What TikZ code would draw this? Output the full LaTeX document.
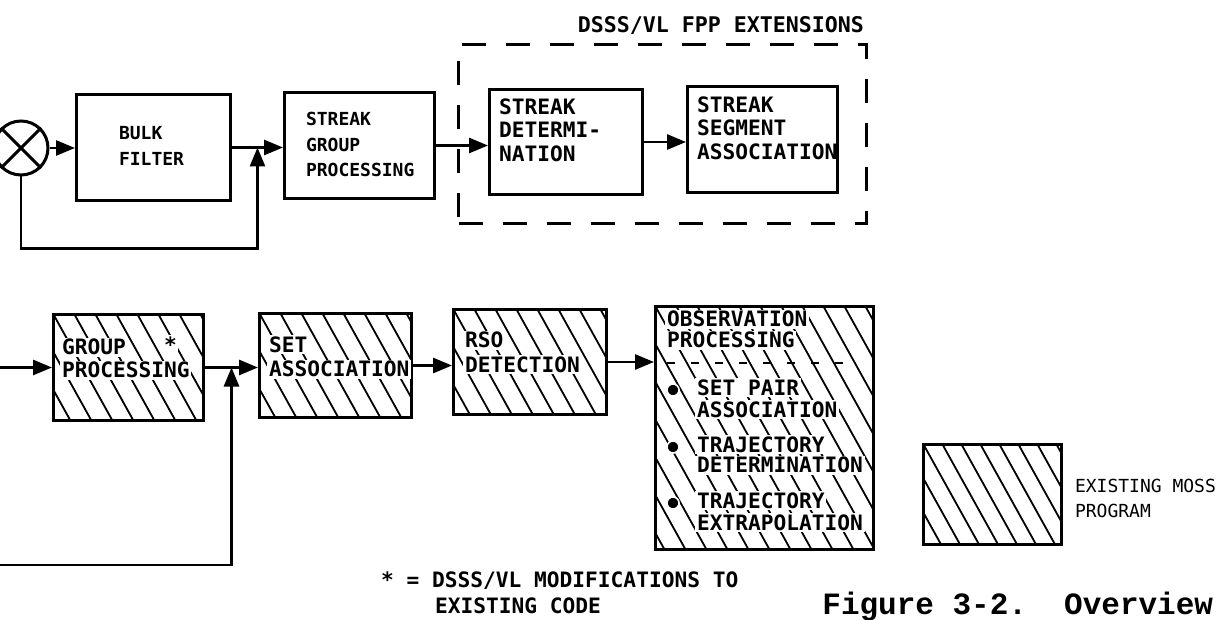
\documentclass[tikz,border=0pt]{standalone}
\usepackage{fontspec}
\newfontfamily\boxfont{DejaVu Sans Mono}
\newfontfamily\capfont{Liberation Mono}
\usetikzlibrary{arrows.meta,calc}

\tikzset{
  blk/.style={draw, line width=1.5pt, anchor=north west, inner sep=0pt},
  wh/.style 2 args={minimum width=#1*0.5pt, minimum height=#2*0.5pt},
  hatched/.style={path picture={
      \foreach \k in {-20,...,20}
        \draw[line width=0.9pt] ([xshift=\k*#1]path picture bounding box.north west) -- ++(100pt,-180pt);
    }},
  conn/.style={line width=1.4pt, -{Triangle[length=9.5pt,width=7.5pt]}},
  lbl/.style={anchor=base west, inner sep=0.8pt,
    font=\boxfont\bfseries\fontsize{10.6pt}{12pt}\selectfont},
  lblsm/.style={lbl, font=\boxfont\bfseries\fontsize{9pt}{11pt}\selectfont},
  hlbl/.style={lbl, fill=white},
}

\begin{document}
\begin{tikzpicture}[x=0.5pt,y=-0.5pt]
  \useasboundingbox (0,0) rectangle (1216,620);
  % upper chain
  \node[circle, draw, line width=1.5pt, minimum size=27pt, inner sep=0pt] (mix) at (21,148) {};
  \draw[line width=1.5pt] (mix.north west) -- (mix.south east) (mix.north east) -- (mix.south west);
  \node[blk, wh={154}{106}] (bulk) at (75,93) {};
  \node[blk, wh={150}{106}] (sgp) at (283,91) {};
  \node[blk, wh={153}{105}] (sdet) at (488,88) {};
  \node[blk, wh={150}{106}] (ssa) at (686,85) {};
  \node[blk, wh={408}{179}, dash pattern=on 12pt off 10pt] (ext) at (457,43) {};
  \node[lbl, anchor=base east, font=\boxfont\bfseries\fontsize{10.8pt}{12pt}\selectfont]
    (ext-title) at ($(ext.north east)+(-2,-10)$) {DSSS/VL FPP EXTENSIONS};
  \node[lblsm] (bulk-1) at (117,140) {BULK};
  \node[lblsm] (bulk-2) at (117,166) {FILTER};
  \foreach \t [count=\i] in {STREAK,GROUP,PROCESSING}
    \node[lblsm] (sgp-\i) at (304,{100.5+\i*25.5}) {\t};
  \foreach \t/\y [count=\i] in {STREAK/115,DETERMI-/138,NATION/162}
    \node[lbl] (sdet-\i) at (497,\y) {\t};
  \foreach \t/\y [count=\i] in {STREAK/113,SEGMENT/136,ASSOCIATION/160}
    \node[lbl] (ssa-\i) at (695,\y) {\t};
  % upper connectors
  \coordinate (j1) at ($(bulk.east)!.5!(bulk.east -| sgp.west)$);
  \draw[conn] (mix.east) -- (mix.east -| bulk.west);
  \draw[conn] (bulk.east) -- (bulk.east -| sgp.west);
  \draw[conn] (mix.south) |- ($(j1)+(0,101)$) -- (j1);
  \draw[conn] (sgp.east) -- (sgp.east -| sdet.west);
  \draw[conn] (sdet.east) -- (sdet.east -| ssa.west);

  % lower chain (existing MOSS)
  \node[blk, wh={150}{106}, hatched=10.5pt] (gp) at (52,313) {};
  \node[blk, wh={152}{104}, hatched=10.5pt] (seta) at (258,312) {};
  \node[blk, wh={153}{105}, hatched=10.5pt] (rso) at (452,308) {};
  \node[blk, wh={218}{243}, hatched=10.5pt] (obs) at (654,305) {};
  \node[hlbl] (gp-1) at (60,355) {GROUP};
  \node[hlbl] (gp-2) at (60,378) {PROCESSING};
  \node[hlbl] (gp-star) at (162,352) {*};
  \node[hlbl] (seta-1) at (267,352) {SET};
  \node[hlbl] (seta-2) at (267,377) {ASSOCIATION};
  \node[hlbl] (rso-1) at (463,348) {RSO};
  \node[hlbl] (rso-2) at (463,372) {DETECTION};
  \node[hlbl] (obs-1) at (665,327) {OBSERVATION};
  \node[hlbl] (obs-2) at (665,348) {PROCESSING};
  \draw[line width=1pt, dash pattern=on 4pt off 8pt] (667,363) -- (855,363);
  \foreach \t/\y [count=\i] in {SET PAIR/395,ASSOCIATION/417,TRAJECTORY/452,
      DETERMINATION/473,TRAJECTORY/508,EXTRAPOLATION/530}
    \node[hlbl] (obs-item-\i) at (695,\y) {\t};
  \foreach \y [count=\i] in {390,447,503}
    \node[circle, fill=black, draw=white, line width=0.8pt, minimum size=6pt, inner sep=0pt]
      (dot-\i) at (673,\y) {};
  % lower connectors
  \coordinate (src) at (gp.west -| 0,0);
  \coordinate (fbsrc) at (0,565);
  \coordinate (j2) at ($(gp.east)!.5!(gp.east -| seta.west)$);
  \draw[conn] (src) -- (gp.west);
  \draw[conn] (gp.east) -- (gp.east -| seta.west);
  \draw[conn] (fbsrc) -| (j2);
  \draw[conn] (seta.east) -- (seta.east -| rso.west);
  \draw[conn] (rso.east) -- (rso.east -| obs.west);

  % note, key and caption
  \node[lbl] (note-1) at (379,587) {* = DSSS/VL MODIFICATIONS TO};
  \node[lbl] (note-2) at (433,613) {EXISTING CODE};
  \node[blk, wh={138}{100}, hatched=9.5pt] (key) at (922,443) {};
  \node[lblsm, font=\boxfont\fontsize{9pt}{11pt}\selectfont] (key-1) at (1073,492) {EXISTING MOSS};
  \node[lblsm, font=\boxfont\fontsize{9pt}{11pt}\selectfont] (key-2) at (1073,517) {PROGRAM};
  \node[anchor=base west, inner sep=0pt, font=\capfont\bfseries\fontsize{15.5pt}{18pt}\selectfont]
    (cap) at (822,614) {Figure 3-2.\ \ Overview};
\end{tikzpicture}
\end{document}
